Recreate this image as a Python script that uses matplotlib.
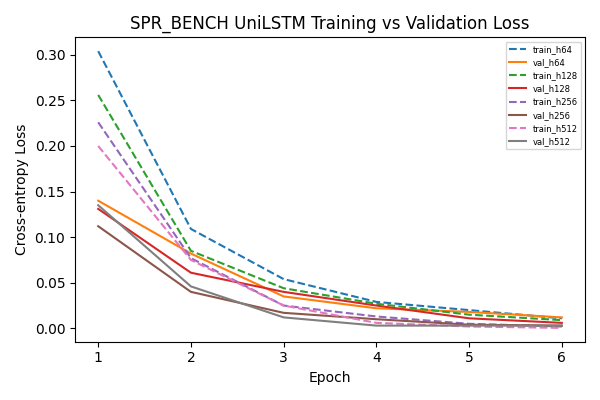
import matplotlib
matplotlib.use("Agg")
import matplotlib.pyplot as plt

epochs = [1, 2, 3, 4, 5, 6]
train_h64 = [0.304, 0.109, 0.054, 0.029, 0.020, 0.011]
val_h64 = [0.140, 0.082, 0.035, 0.022, 0.018, 0.012]
train_h128 = [0.256, 0.085, 0.044, 0.027, 0.015, 0.009]
val_h128 = [0.131, 0.061, 0.040, 0.025, 0.011, 0.006]
train_h256 = [0.226, 0.077, 0.025, 0.013, 0.005, 0.002]
val_h256 = [0.112, 0.040, 0.017, 0.010, 0.004, 0.003]
train_h512 = [0.200, 0.075, 0.025, 0.006, 0.002, 0.0005]
val_h512 = [0.135, 0.046, 0.012, 0.003, 0.003, 0.003]

series = [
    ("train_h64", train_h64, "--", "C0"),
    ("val_h64", val_h64, "-", "C1"),
    ("train_h128", train_h128, "--", "C2"),
    ("val_h128", val_h128, "-", "C3"),
    ("train_h256", train_h256, "--", "C4"),
    ("val_h256", val_h256, "-", "C5"),
    ("train_h512", train_h512, "--", "C6"),
    ("val_h512", val_h512, "-", "C7"),
]

fig, ax = plt.subplots(figsize=(6, 4), dpi=100)
for name, vals, ls, c in series:
    ax.plot(epochs, vals, linestyle=ls, color=c, label=name)
ax.set_xlabel("Epoch")
ax.set_ylabel("Cross-entropy Loss")
ax.set_title("SPR_BENCH UniLSTM Training vs Validation Loss")
ax.legend(fontsize=6)
fig.tight_layout()
fig.savefig("out.png")
